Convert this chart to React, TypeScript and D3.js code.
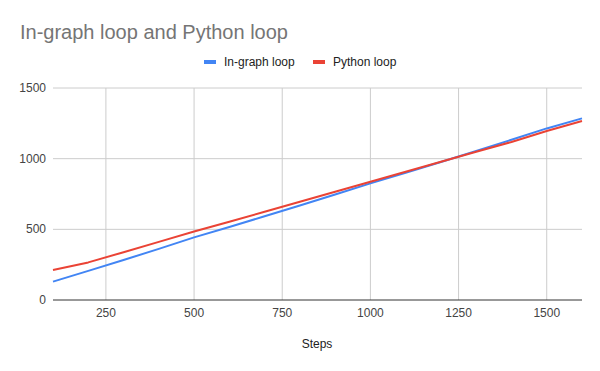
import React, { useEffect, useRef } from 'react';
import * as d3 from 'd3';

const steps = [100, 200, 300, 400, 500, 600, 700, 800, 900, 1000, 1100, 1200, 1300, 1400, 1500, 1600];
const inGraph = [130, 206, 283, 362, 443, 517, 592, 669, 747, 825, 900, 976, 1054, 1134, 1214, 1285];
const pythonLoop = [212, 266, 338, 411, 485, 554, 624, 695, 766, 837, 908, 978, 1049, 1118, 1196, 1266];
const xTicks = [250, 500, 750, 1000, 1250, 1500];
const yTicks = [0, 500, 1000, 1500];

const seriesNames = ['In-graph loop', 'Python loop'];
const colors = ['#4285F4', '#EA4335'];

const App = () => {
  const ref = useRef<SVGSVGElement>(null);

  useEffect(() => {
    const svg = d3.select(ref.current);
    svg.selectAll('*').remove();

    const margin = { top: 88, right: 18, bottom: 71, left: 53 };
    const width = 600 - margin.left - margin.right;
    const height = 371 - margin.top - margin.bottom;
    const font = '"Liberation Sans", Arial, sans-serif';

    svg.append('rect').attr('width', 600).attr('height', 371).attr('fill', '#fff');

    // title
    svg
      .append('text')
      .attr('x', 20)
      .attr('y', 39)
      .attr('font-family', font)
      .attr('font-size', 20)
      .attr('fill', '#757575')
      .text('In-graph loop and Python loop');

    // legend
    const legendX = [204, 313];
    seriesNames.forEach((name, i) => {
      svg
        .append('rect')
        .attr('x', legendX[i])
        .attr('y', 60)
        .attr('width', 12)
        .attr('height', 4)
        .attr('fill', colors[i]);
      svg
        .append('text')
        .attr('x', legendX[i] + 20)
        .attr('y', 66)
        .attr('font-family', font)
        .attr('font-size', 12)
        .attr('fill', '#222')
        .text(name);
    });

    const g = svg.append('g').attr('transform', `translate(${margin.left},${margin.top})`);

    const x = d3.scaleLinear().domain([100, 1600]).range([0, width]);
    const y = d3.scaleLinear().domain([0, 1500]).range([height, 0]);

    // grid
    g.selectAll('.hgrid')
      .data(yTicks.filter((t) => t > 0))
      .enter()
      .append('line')
      .attr('x1', 0)
      .attr('x2', width)
      .attr('y1', (d) => y(d))
      .attr('y2', (d) => y(d))
      .attr('stroke', '#cccccc')
      .attr('stroke-width', 1);

    g.selectAll('.vgrid')
      .data(xTicks)
      .enter()
      .append('line')
      .attr('x1', (d) => x(d))
      .attr('x2', (d) => x(d))
      .attr('y1', 0)
      .attr('y2', height)
      .attr('stroke', '#cccccc')
      .attr('stroke-width', 1);

    // y labels
    g.selectAll('.ylab')
      .data(yTicks)
      .enter()
      .append('text')
      .attr('x', -7)
      .attr('y', (d) => y(d) + 4)
      .attr('text-anchor', 'end')
      .attr('font-family', font)
      .attr('font-size', 12)
      .attr('fill', '#444')
      .text((d) => d);

    // x labels
    g.selectAll('.xlab')
      .data(xTicks)
      .enter()
      .append('text')
      .attr('x', (d) => x(d))
      .attr('y', height + 17)
      .attr('text-anchor', 'middle')
      .attr('font-family', font)
      .attr('font-size', 12)
      .attr('fill', '#444')
      .text((d) => d);

    // axis title
    svg
      .append('text')
      .attr('x', 317)
      .attr('y', 348)
      .attr('text-anchor', 'middle')
      .attr('font-family', font)
      .attr('font-size', 12)
      .attr('fill', '#222')
      .text('Steps');

    const line = d3
      .line<number>()
      .x((_, i) => x(steps[i]))
      .y((d) => y(d));

    [inGraph, pythonLoop].forEach((vals, i) => {
      g.append('path')
        .datum(vals)
        .attr('fill', 'none')
        .attr('stroke', colors[i])
        .attr('stroke-width', 2)
        .attr('stroke-linejoin', 'round')
        .attr('d', line);
    });

    // baseline
    g.append('line')
      .attr('x1', 0)
      .attr('x2', width)
      .attr('y1', height)
      .attr('y2', height)
      .attr('stroke', '#333')
      .attr('stroke-width', 1);
  }, []);

  return (
    <svg ref={ref} width={600} height={371} style={{ position: 'absolute', left: 0, top: 0 }} />
  );
};

export default App;
